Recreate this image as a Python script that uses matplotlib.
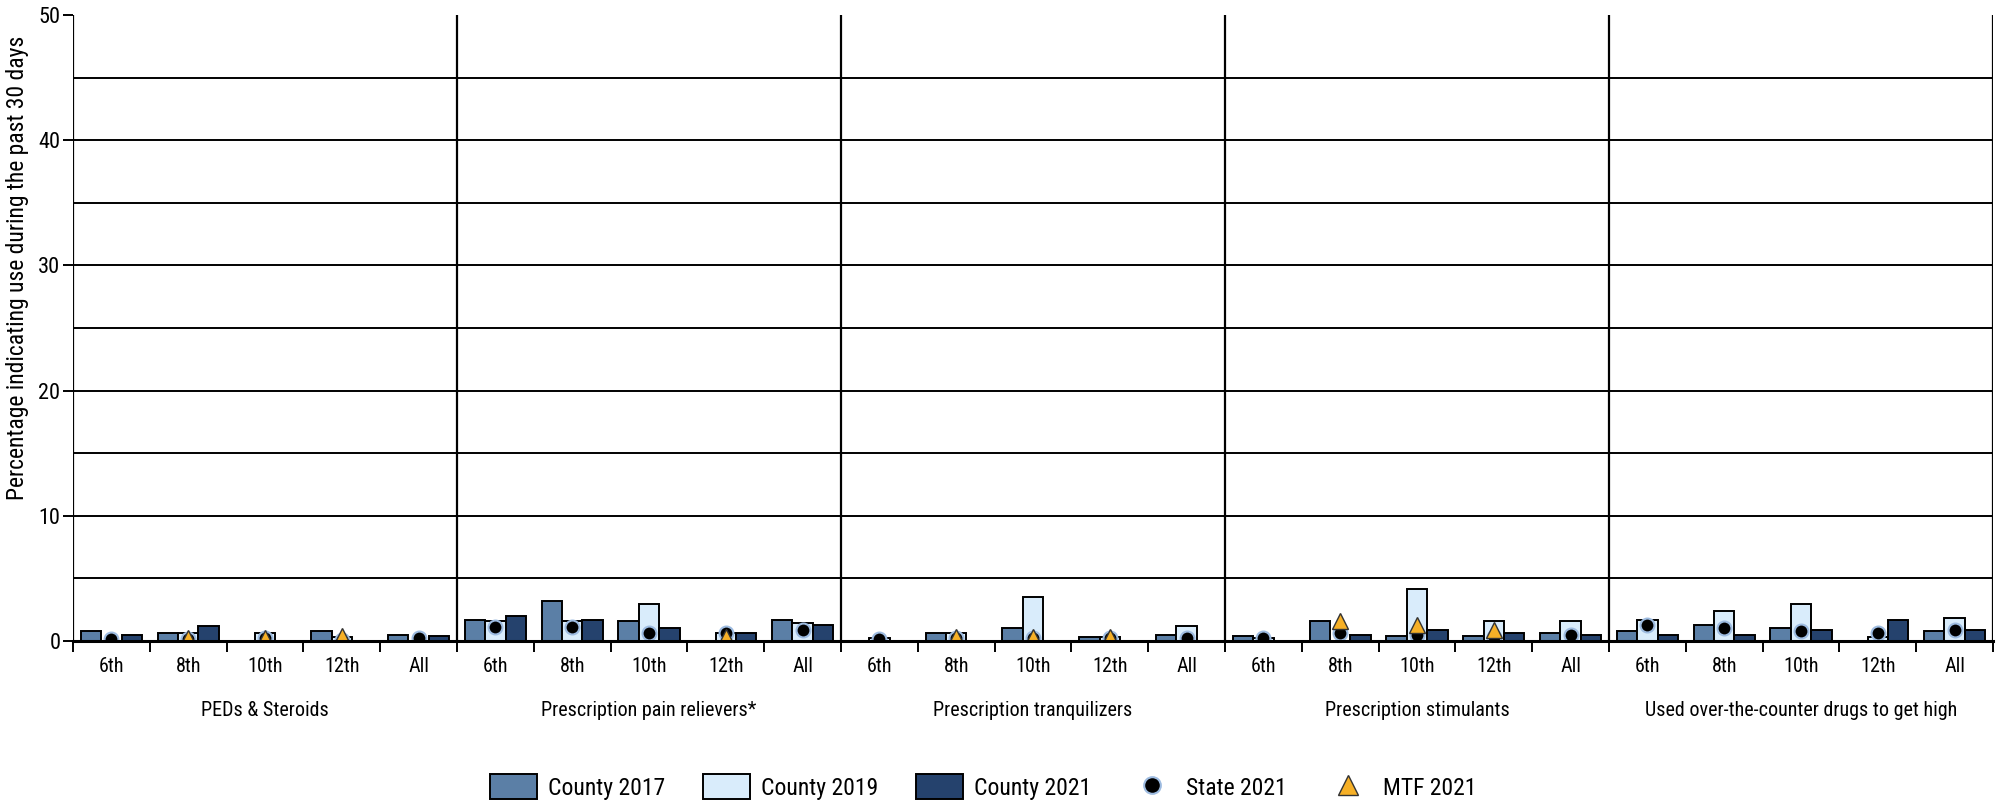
import numpy as np
import matplotlib
matplotlib.use("Agg")
import matplotlib.pyplot as plt
from matplotlib import font_manager
from matplotlib.lines import Line2D
from matplotlib.patches import Patch
import matplotlib.transforms as mtransforms

names = {f.name for f in font_manager.fontManager.ttflist}
FONT = "DejaVu Sans"
for cand in ["Liberation Sans Narrow", "Roboto Condensed", "Open Sans Condensed", "Lato", "Liberation Sans"]:
    if cand in names:
        FONT = cand
        break
plt.rcParams["font.family"] = [FONT, "DejaVu Sans"]

panels = ["PEDs & Steroids", "Prescription pain relievers*", "Prescription tranquilizers",
          "Prescription stimulants", "Used over-the-counter drugs to get high"]
grades = ["6th", "8th", "10th", "12th", "All"]

county_2017 = [0.8, 0.6, 0.0, 0.8, 0.5,
               1.7, 3.2, 1.6, 0.0, 1.7,
               0.0, 0.6, 1.05, 0.35, 0.5,
               0.37, 1.6, 0.37, 0.37, 0.6,
               0.8, 1.3, 1.05, 0.0, 0.8]
county_2019 = [0.0, 0.6, 0.6, 0.35, 0.0,
               1.6, 1.6, 2.95, 0.65, 1.45,
               0.25, 0.6, 3.5, 0.35, 1.2,
               0.2, 0.0, 4.15, 1.6, 1.6,
               1.7, 2.4, 2.95, 0.35, 1.85]
county_2021 = [0.5, 1.2, 0.0, 0.0, 0.4,
               2.0, 1.7, 1.05, 0.6, 1.3,
               0.0, 0.0, 0.0, 0.0, 0.0,
               0.0, 0.5, 0.9, 0.6, 0.5,
               0.5, 0.5, 0.9, 1.7, 0.9]
state_2021 = [0.15, 0.15, 0.2, 0.1, 0.2,
              1.1, 1.1, 0.65, 0.6, 0.9,
              0.15, 0.2, 0.2, 0.2, 0.2,
              0.25, 0.65, 0.45, 0.35, 0.45,
              1.25, 1.0, 0.8, 0.6, 0.9]
mtf_2021 = [np.nan, 0.2, 0.2, 0.4, np.nan,
            np.nan, np.nan, np.nan, 0.3, np.nan,
            np.nan, 0.3, 0.35, 0.35, np.nan,
            np.nan, 1.6, 1.3, 0.9, np.nan,
            np.nan, np.nan, np.nan, np.nan, np.nan]

C17 = "#5b7fa6"
C19 = "#d9ecfb"
C21 = "#25426d"
ORANGE = "#f6b027"
GLOW = "#9dbbe0"

W, H = 1999, 802
fig = plt.figure(figsize=(W / 100, H / 100), dpi=100)
left, right, bottom, top = 73 / W, 1993 / W, 1 - 641 / H, 1 - 15 / H
ax = fig.add_axes([left, bottom, right - left, top - bottom])

n = len(county_2017)
x = np.arange(n) + 0.5
bw = 0.265
ax.bar(x - bw, county_2017, bw, color=C17, edgecolor="black", linewidth=1.4, zorder=3)
ax.bar(x, county_2019, bw, color=C19, edgecolor="black", linewidth=1.4, zorder=3)
ax.bar(x + bw, county_2021, bw, color=C21, edgecolor="black", linewidth=1.4, zorder=3)
ax.plot(x, state_2021, "o", color="black", markersize=10, markeredgecolor=GLOW,
        markeredgewidth=1.5, zorder=4, linestyle="none")
ax.plot(x, mtf_2021, "^", color=ORANGE, markersize=12, markeredgecolor="#333333",
        markeredgewidth=1.0, zorder=5, linestyle="none")

ax.set_xlim(0, n)
ax.set_ylim(0, 50)
for yv in np.arange(5, 50, 5):
    ax.axhline(yv, color="black", linewidth=1.4, zorder=1)
for p in range(len(panels) + 1):
    ax.axvline(p * 5, color="black", linewidth=1.6, zorder=1)

for s in ["top", "right", "left"]:
    ax.spines[s].set_visible(False)
ax.spines["bottom"].set_linewidth(2.2)
ax.spines["bottom"].set_zorder(6)

ax.set_yticks(np.arange(0, 51, 10))
ax.tick_params(axis="y", length=7, width=1.4, labelsize=16, pad=2)
ax.set_xticks(np.arange(0, n + 1, 1))
ax.set_xticklabels([])
ax.tick_params(axis="x", length=8, width=1.4, direction="out")

trans = mtransforms.blended_transform_factory(ax.transData, ax.transAxes)
ah = 626
for i in range(n):
    ax.text(x[i], -25 / ah, grades[i % 5], ha="center", va="center",
            fontsize=14.5, transform=trans)
for p, name in enumerate(panels):
    ax.text(p * 5 + 2.5, -70 / ah, name, ha="center", va="center",
            fontsize=14.5, transform=trans)

fig.text(18 / W, 1 - 268 / H, "Percentage indicating use during the past 30 days",
         rotation=90, ha="center", va="center", fontsize=17)

handles = [Patch(facecolor=C17, edgecolor="black", linewidth=1.4, label="County 2017"),
           Patch(facecolor=C19, edgecolor="black", linewidth=1.4, label="County 2019"),
           Patch(facecolor=C21, edgecolor="black", linewidth=1.4, label="County 2021"),
           Line2D([], [], marker="o", color="black", markeredgecolor=GLOW, markersize=12,
                  markeredgewidth=1.5, linestyle="none", label="State 2021"),
           Line2D([], [], marker="^", color=ORANGE, markeredgecolor="#333333", markersize=15,
                  linestyle="none", label="MTF 2021")]
fig.legend(handles=handles, loc="center", bbox_to_anchor=(983 / W, 1 - 787 / H), ncol=5,
           frameon=False, fontsize=17, handlelength=2.0, handleheight=1.2,
           columnspacing=1.6, handletextpad=0.45)

fig.savefig("out.png", dpi=100)
